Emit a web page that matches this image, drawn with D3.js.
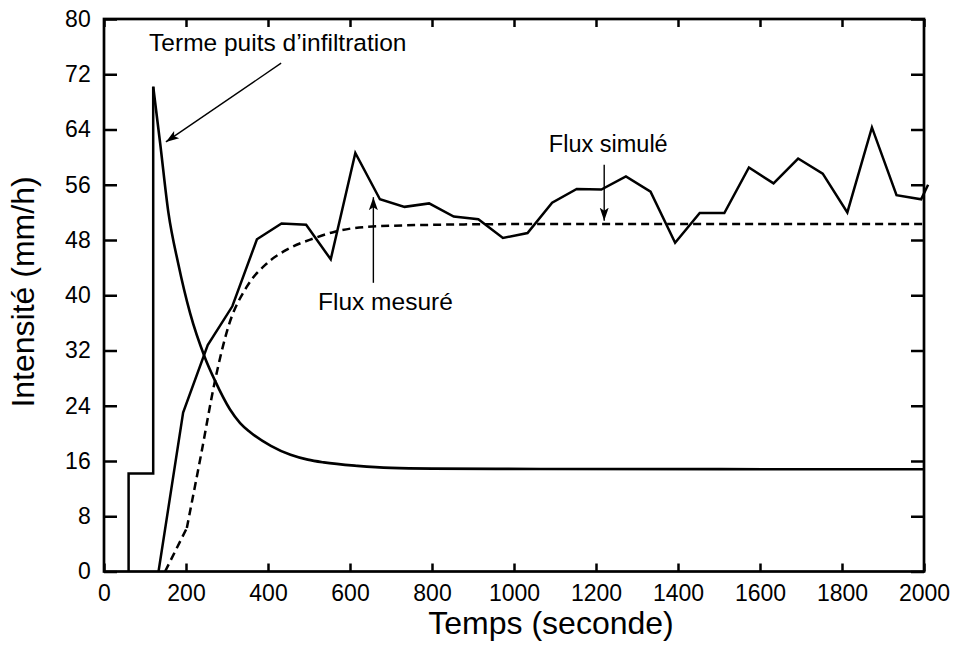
<!DOCTYPE html>
<meta charset="utf-8">
<script src="https://d3js.org/d3.v7.min.js"></script>
<style>
  body { margin: 0; background: #fff; }
  text { font-family: "Liberation Sans", Arial, Helvetica, sans-serif; fill: #000; }
</style>
<div id="my_dataviz"></div>
<script>

// ---- data ----
// measured flux (solid line with corners)
var measuredTime = [133, 193, 253, 313, 373, 433, 493, 553, 613, 673, 733, 793, 853, 913, 973,
                    1033, 1093, 1153, 1213, 1273, 1333, 1393, 1453, 1513, 1573, 1633, 1693,
                    1753, 1813, 1873, 1933, 1993, 2010];
var measuredFlux = [0, 23.0, 32.8, 38.4, 48.1, 50.4, 50.2, 45.2, 60.6, 53.9, 52.8, 53.3, 51.4, 51.0, 48.3,
                    49.0, 53.4, 55.4, 55.3, 57.2, 55.0, 47.6, 51.9, 51.9, 58.5, 56.2, 59.8,
                    57.6, 52.0, 64.3, 54.5, 53.9, 56.0];

// simulated flux (dashed); the first segment is straight, the rest is smooth
var simTime = [149, 202, 237, 271, 303, 348, 397, 446, 510, 563, 641, 802, 1000, 1500, 2000];
var simFlux = [0, 6.3, 17.0, 27.7, 35.4, 41.2, 44.6, 46.6, 48.2, 49.2, 49.9, 50.2, 50.3, 50.3, 50.3];

// infiltration sink term: step part then decay
var sinkStepTime = [60, 60, 120, 120];
var sinkStepValue = [0, 14.2, 14.2, 70.2];
var sinkDecayTime = [120, 137, 157, 181, 210, 246, 271, 307, 332, 356, 407, 455, 497, 536, 618, 700, 800, 1065, 2000];
var sinkDecayValue = [70.2, 62.0, 52.0, 44.6, 37.4, 31.0, 27.6, 23.5, 21.5, 20.2, 18.2, 16.9, 16.2, 15.8, 15.3, 15.0, 14.9, 14.85, 14.8];

var xTicks = [0, 200, 400, 600, 800, 1000, 1200, 1400, 1600, 1800, 2000];
var yTicks = [0, 8, 16, 24, 32, 40, 48, 56, 64, 72, 80];

// annotations: text anchor point and arrow (from -> to), in data units
var notes = [
  {label: "Terme puits d\u2019infiltration", size: 24.5, tx: 110, ty: 75.4, x1: 432, y1: 73.6, x2: 151, y2: 62.2},
  {label: "Flux mesur\u00e9", size: 24.5, tx: 522, ty: 37.9, x1: 657, y1: 41.8, x2: 657, y2: 54.2},
  {label: "Flux simul\u00e9", size: 23.5, tx: 1085, ty: 60.8, x1: 1220, y1: 58.9, x2: 1220, y2: 50.8}
];

// ---- layout ----
var margin = {top: 19, right: 31, bottom: 73.5, left: 104},
    width = 955 - margin.left - margin.right,
    height = 645 - margin.top - margin.bottom;

var svg = d3.select("#my_dataviz")
  .append("svg")
    .attr("width", 955)
    .attr("height", 645)
  .append("g")
    .attr("transform", "translate(" + margin.left + "," + margin.top + ")");

var x = d3.scaleLinear().domain([0, 2000]).range([0, width]);
var y = d3.scaleLinear().domain([0, 80]).range([height, 0]);

// axes with inward ticks
svg.append("g")
  .attr("class", "axis")
  .attr("transform", "translate(0," + height + ")")
  .call(d3.axisBottom(x).tickValues(xTicks).tickFormat(d3.format("d"))
    .tickSize(-8).tickSizeOuter(0).tickPadding(13.5));
svg.append("g")
  .attr("class", "axis")
  .call(d3.axisTop(x).tickValues(xTicks).tickSize(-8).tickSizeOuter(0).tickFormat(""));
svg.append("g")
  .attr("class", "axis")
  .call(d3.axisLeft(y).tickValues(yTicks).tickFormat(d3.format("d"))
    .tickSize(-13).tickSizeOuter(0).tickPadding(13.3));
svg.append("g")
  .attr("class", "axis")
  .attr("transform", "translate(" + width + ",0)")
  .call(d3.axisRight(y).tickValues(yTicks).tickSize(-13).tickSizeOuter(0).tickFormat(""));

svg.selectAll(".axis .domain").remove();
svg.selectAll(".axis line").attr("stroke", "#000").attr("stroke-width", 2.5);
svg.selectAll(".axis text")
  .style("font-size", "23px")
  .style("font-family", "'Liberation Sans', Arial, sans-serif")
  .attr("fill", "#000");

// frame
svg.append("rect")
  .attr("x", 0).attr("y", 0)
  .attr("width", width).attr("height", height)
  .attr("fill", "none")
  .attr("stroke", "#000")
  .attr("stroke-width", 2.7);

// axis titles
svg.append("text")
  .attr("x", 447)
  .attr("y", height + 62.5)
  .attr("text-anchor", "middle")
  .style("font-size", "32px")
  .text("Temps (seconde)");

svg.append("text")
  .attr("transform", "translate(" + (34 - margin.left) + "," + (292 - margin.top) + ") rotate(-90)")
  .attr("text-anchor", "middle")
  .style("font-size", "32px")
  .text("Intensit\u00e9 (mm/h)");

// ---- curves ----
function zip(a, b) { return a.map(function(d, i) { return [d, b[i]]; }); }

var lineLinear = d3.line()
  .x(function(d) { return x(d[0]); })
  .y(function(d) { return y(d[1]); });
var lineSmooth = d3.line()
  .curve(d3.curveMonotoneX)
  .x(function(d) { return x(d[0]); })
  .y(function(d) { return y(d[1]); });

svg.append("path")
  .datum(zip(sinkStepTime, sinkStepValue))
  .attr("fill", "none").attr("stroke", "#000").attr("stroke-width", 2.5)
  .attr("stroke-linejoin", "miter")
  .attr("d", lineLinear);

svg.append("path")
  .datum(zip(sinkDecayTime, sinkDecayValue))
  .attr("fill", "none").attr("stroke", "#000").attr("stroke-width", 2.6)
  .attr("d", lineSmooth);

var simPts = zip(simTime, simFlux);
svg.append("path")
  .datum(simPts.slice(0, 2))
  .attr("fill", "none").attr("stroke", "#000").attr("stroke-width", 2.5)
  .attr("stroke-dasharray", "8,5")
  .attr("d", lineLinear);
svg.append("path")
  .datum(simPts.slice(1))
  .attr("fill", "none").attr("stroke", "#000").attr("stroke-width", 2.5)
  .attr("stroke-dasharray", "8,5")
  .attr("d", lineSmooth);

svg.append("path")
  .datum(zip(measuredTime, measuredFlux))
  .attr("fill", "none").attr("stroke", "#000").attr("stroke-width", 2.5)
  .attr("stroke-linejoin", "miter")
  .attr("d", lineLinear);

// ---- annotations ----
var defs = d3.select("svg").append("defs");
defs.append("marker")
  .attr("id", "arrow")
  .attr("markerUnits", "userSpaceOnUse")
  .attr("viewBox", "-13 -6 14 12")
  .attr("refX", 0).attr("refY", 0)
  .attr("markerWidth", 14).attr("markerHeight", 12)
  .attr("orient", "auto")
  .append("path")
    .attr("d", "M0,0 L-13,-4.5 L-10,0 L-13,4.5 Z")
    .attr("fill", "#000");

var ann = svg.append("g").selectAll("g").data(notes).enter().append("g");
ann.append("line")
  .attr("x1", function(d) { return x(d.x1); })
  .attr("y1", function(d) { return y(d.y1); })
  .attr("x2", function(d) { return x(d.x2); })
  .attr("y2", function(d) { return y(d.y2); })
  .attr("stroke", "#000")
  .attr("stroke-width", 1.4)
  .attr("marker-end", "url(#arrow)");
ann.append("text")
  .attr("x", function(d) { return x(d.tx); })
  .attr("y", function(d) { return y(d.ty); })
  .style("font-size", function(d) { return d.size + "px"; })
  .text(function(d) { return d.label; });

</script>
